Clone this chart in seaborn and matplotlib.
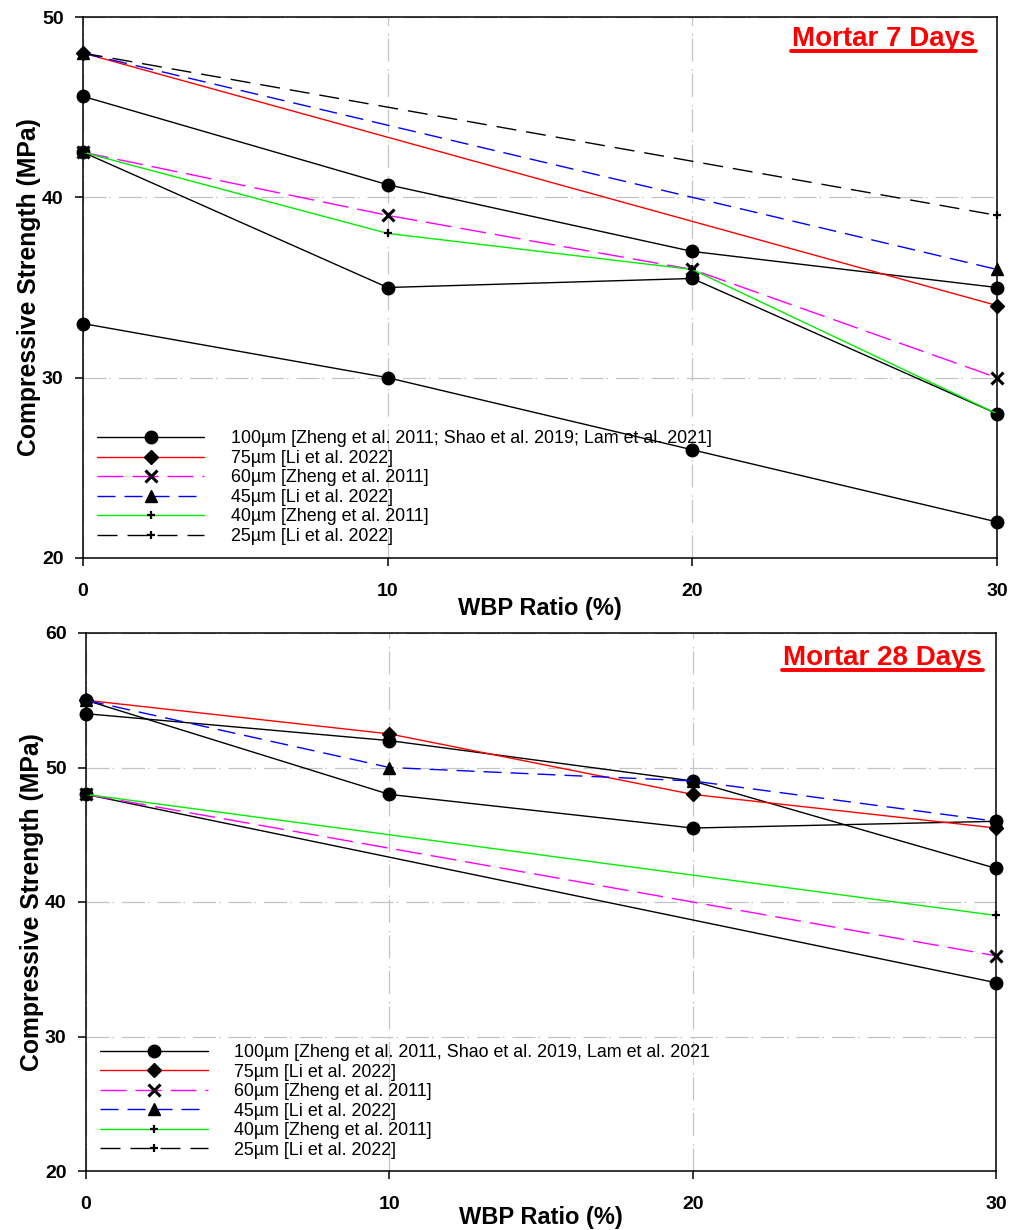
import matplotlib
matplotlib.use("Agg")
import matplotlib.pyplot as plt
import matplotlib.transforms as mtransforms
from matplotlib.lines import Line2D
import seaborn as sns

sns.set_theme(style="white")
plt.rcParams["font.family"] = ["Liberation Sans", "DejaVu Sans"]
plt.rcParams["lines.scale_dashes"] = False
for k in ("text.color", "axes.labelcolor", "xtick.color", "ytick.color", "axes.edgecolor"):
    plt.rcParams[k] = "black"

# ---------------- data ----------------
wbp = [0, 10, 20, 30]
wbp_ends = [0, 30]

# Mortar 7 days
d7_100a = [45.6, 40.7, 37.0, 35.0]
d7_100b = [42.5, 35.0, 35.5, 28.0]
d7_100c = [33.0, 30.0, 26.0, 22.0]
d7_75 = [48.0, 34.0]
d7_60 = [42.5, 39.0, 36.0, 30.0]
d7_45 = [48.0, 36.0]
d7_40 = [42.5, 38.0, 36.0, 28.0]
d7_25 = [48.0, 39.0]

# Mortar 28 days
d28_100a = [54.0, 52.0, 49.0, 42.5]
d28_100b = [55.0, 48.0, 45.5, 46.0]
d28_100c = [48.0, 34.0]
d28_75 = [55.0, 52.5, 48.0, 45.5]
d28_60 = [48.0, 36.0]
d28_45 = [55.0, 50.0, 49.0, 46.0]
d28_40 = [48.0, 39.0]

labels7 = ["100\u00b5m [Zheng et al. 2011; Shao et al. 2019; Lam et al. 2021]",
           "75\u00b5m [Li et al. 2022]",
           "60\u00b5m [Zheng et al. 2011]",
           "45\u00b5m [Li et al. 2022]",
           "40\u00b5m [Zheng et al. 2011]",
           "25\u00b5m [Li et al. 2022]"]
labels28 = ["100\u00b5m [Zheng et al. 2011, Shao et al. 2019, Lam et al. 2021",
            "75\u00b5m [Li et al. 2022]",
            "60\u00b5m [Zheng et al. 2011]",
            "45\u00b5m [Li et al. 2022]",
            "40\u00b5m [Zheng et al. 2011]",
            "25\u00b5m [Li et al. 2022]"]

sizes = ["100", "75", "60", "45", "40", "25"]

# ---------------- styles ----------------
px = 0.72
styles = {
    "100": dict(color="black", linestyle="-", marker="o", markersize=9, markeredgewidth=1),
    "75": dict(color="#ff0000", linestyle="-", marker="D", markersize=7, markeredgewidth=1),
    "60": dict(color="#ff00ff", linestyle=(0, (26 * px, 9 * px)), marker="x", markersize=8, markeredgewidth=2.2),
    "45": dict(color="#0000ff", linestyle=(0, (18 * px, 9 * px)), marker="^", markersize=9, markeredgewidth=1),
    "40": dict(color="#00ee00", linestyle="-", marker="+", markersize=6, markeredgewidth=1.6),
    "25": dict(color="black", linestyle=(0, (20 * px, 10 * px)), marker="+", markersize=6, markeredgewidth=1.6),
}


def draw(ax, x, y, key):
    st = styles[key]
    sns.lineplot(x=x, y=y, ax=ax, color=st["color"], linestyle=st["linestyle"],
                 marker=st["marker"], markersize=st["markersize"],
                 markerfacecolor="black", markeredgecolor="black",
                 markeredgewidth=st["markeredgewidth"], linewidth=1.0,
                 clip_on=False, legend=False, zorder=3)


def proxies():
    hs = []
    for k in sizes:
        st = styles[k]
        hs.append(Line2D([], [], color=st["color"], linestyle=st["linestyle"], linewidth=1.0,
                         marker=st["marker"], markersize=st["markersize"],
                         markerfacecolor="black", markeredgecolor="black",
                         markeredgewidth=st["markeredgewidth"]))
    return hs


fig = plt.figure(figsize=(10.27, 12.30), dpi=100)
ax1 = fig.add_axes([83 / 1027, 1 - 558 / 1230, (997 - 83) / 1027, (558 - 17) / 1230])
ax2 = fig.add_axes([86 / 1027, 1 - 1171 / 1230, (996 - 86) / 1027, (1171 - 633) / 1230])

# top panel
for ys in (d7_100a, d7_100b, d7_100c):
    draw(ax1, wbp, ys, "100")
draw(ax1, wbp_ends, d7_75, "75")
draw(ax1, wbp, d7_60, "60")
draw(ax1, wbp_ends, d7_45, "45")
draw(ax1, wbp, d7_40, "40")
draw(ax1, wbp_ends, d7_25, "25")

# bottom panel
for xs, ys in ((wbp, d28_100a), (wbp, d28_100b), (wbp_ends, d28_100c)):
    draw(ax2, xs, ys, "100")
draw(ax2, wbp, d28_75, "75")
draw(ax2, wbp_ends, d28_60, "60")
draw(ax2, wbp, d28_45, "45")
draw(ax2, wbp_ends, d28_40, "40")

grid_ls = (0, (23 * px, 3 * px, 1.5 * px, 8 * px))

for ax, ylim, yticks, labels, legxy, xlp in (
        (ax1, (20, 50), [20, 30, 40, 50], labels7, (0.0153, 0.236), -2),
        (ax2, (20, 60), [20, 30, 40, 50, 60], labels28, (0.0154, 0.236), -5)):
    ax.set_xlim(0, 30)
    ax.set_ylim(*ylim)
    ax.set_xticks(wbp)
    ax.set_yticks(yticks)
    ax.grid(True, color="#c4c4c4", linestyle=grid_ls, linewidth=0.9)
    for s in ax.spines.values():
        s.set_visible(True)
        s.set_color("black")
        s.set_linewidth(1.1)
    ax.tick_params(axis="both", which="major", direction="out", length=6, width=1.1,
                   color="black", labelcolor="black", labelsize=14, left=True, bottom=True)
    ax.tick_params(axis="x", pad=12)
    ax.tick_params(axis="y", pad=8)
    for t in ax.get_xticklabels() + ax.get_yticklabels():
        t.set_fontweight("bold")
    ax.set_xlabel("WBP Ratio (%)", fontsize=17, fontweight="bold", labelpad=xlp, color="black")
    ax.set_ylabel("Compressive Strength (MPa)", fontsize=17.8, fontweight="bold", labelpad=1,
                  color="black")
    leg = ax.legend(proxies(), labels, loc="upper left", bbox_to_anchor=legxy,
                    frameon=False, fontsize=12.9, handlelength=6.0, handletextpad=1.5,
                    labelspacing=0.14, borderpad=0, borderaxespad=0, numpoints=1)
    for t in leg.get_texts():
        t.set_color("black")

# titles with underline
titles = ((ax1, "Mortar 7 Days", 0.976, (558 - 46) / 541),
          (ax2, "Mortar 28 Days", 0.9846, (1171 - 665) / 538))
txts = []
for ax, s, xr, yb in titles:
    t = ax.text(xr, yb, s, transform=ax.transAxes, ha="right", va="baseline",
                fontsize=20, fontweight="bold", color="#ff0000")
    txts.append((ax, t, yb))

fig.canvas.draw()
r = fig.canvas.get_renderer()
for ax, t, yb in txts:
    bb = t.get_window_extent(r)
    ybase = ax.transAxes.transform((0, yb))[1]
    yu = ybase - 4.5
    fig.add_artist(Line2D([bb.x0 - 1, bb.x1 + 1], [yu, yu], color="#ff0000", linewidth=2.8,
                          transform=mtransforms.IdentityTransform()))

fig.savefig("out.png", dpi=100)
